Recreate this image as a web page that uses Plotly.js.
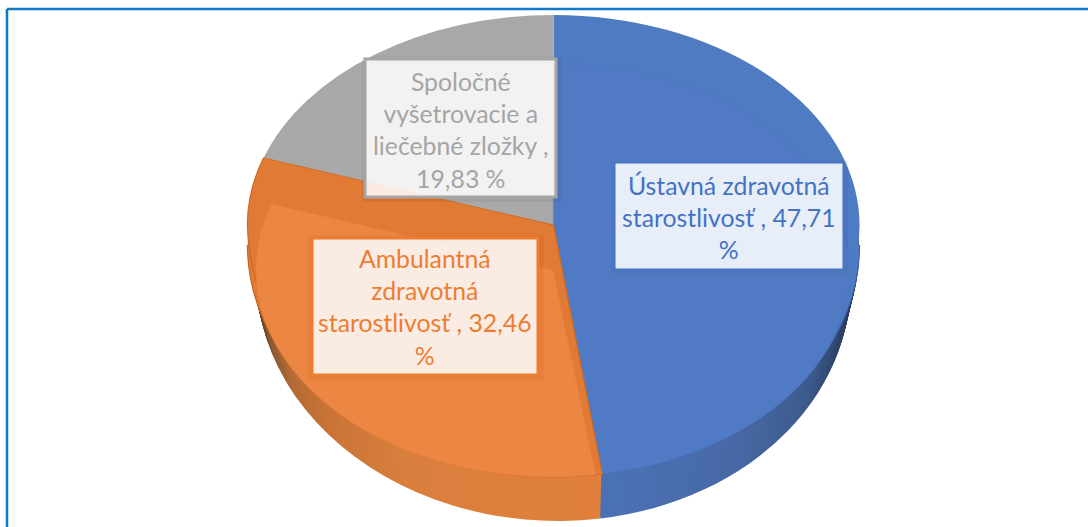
<!DOCTYPE html>
<html>
<head>
<meta charset="utf-8">
<script src="https://cdn.plot.ly/plotly-3.0.1.min.js"></script>
<style>html,body{margin:0;padding:0;background:#fff}#chart{width:1088px;height:527px}</style>
</head>
<body>
<div id="chart"></div>
<script>
var categories = ['Ústavná zdravotná starostlivosť', 'Ambulantná zdravotná starostlivosť', 'Spoločné vyšetrovacie a liečebné zložky'];
var shares = [47.71, 32.46, 19.83];
var labelTexts = [
  'Ústavná zdravotná<br>starostlivosť , 47,71<br>%',
  'Ambulantná<br>zdravotná<br>starostlivosť , 32,46<br>%',
  'Spoločné<br>vyšetrovacie a<br>liečebné zložky ,<br>19,83 %'
];
var W = 1088, H = 527, R = H / 2;

function pieTrace(colors, lineColors, lineWidth) {
  return {
    type: 'pie', labels: categories, values: shares, sort: false, direction: 'clockwise',
    rotation: 0, textinfo: 'none', hoverinfo: 'skip', showlegend: false,
    marker: {colors: colors, line: {color: lineColors || colors, width: lineWidth || 0}}
  };
}

var rimColors = ['#4f7bc3', '#e07a34', '#a8a8a8'];
var faceColors = ['#507bc4', '#ec8743', '#a9a9a9'];
var traces = [], layers = [];
function add(trace, layer) { traces.push(trace); layers.push(layer); }

var sideSteps = 22;
for (var i = sideSteps; i >= 1; i--) {
  var t = i / sideSteps;
  add(pieTrace(['#4a70b3', '#e0803c', '#8c8c8c']),
    {side: true, cx: 553.5, cy: 246 + 34 * t, rx: 306 - 9 * t, ry: 231 + 10 * t, y0: 240, y1: 527, skew: 0.018});
}
// bevelled rim of the top face
add(pieTrace(rimColors), {cx: 553.5, cy: 225, rx: 306, ry: 210, y0: 0, y1: 226});
add(pieTrace(rimColors, ['#3c62a6', '#c9661f', '#a8a8a8'], 1), {cx: 553.5, cy: 246, rx: 306, ry: 231, y0: 245, y1: 527});
add(pieTrace(rimColors), {cx: 553.5, cy: 225, rx: 306, ry: 252, y0: 225, y1: 470});
// flat inner face: blue and grey first
add(pieTrace(faceColors, ['#4a76bf', '#ec8743', '#a3a3a3'], 0.8), {cx: 553, cy: 270, rx: 297, ry: 207, y0: 0, y1: 527, hide: [1]});
// orange rim wedge overlaps them
add(pieTrace(rimColors, ['#4f7bc3', '#cf6a22', '#a8a8a8'], 1), {cx: 553.5, cy: 225, rx: 306, ry: 210, y0: 100, y1: 226, hide: [0, 2]});
add(pieTrace(rimColors, ['#4f7bc3', '#cf6a22', '#a8a8a8'], 1), {cx: 553.5, cy: 225, rx: 306, ry: 252, y0: 225, y1: 527, hide: [0, 2], skew: 0.02});
// flat inner face: orange last
add(pieTrace(faceColors, ['#4a76bf', '#e67f3c', '#a3a3a3'], 0.8), {cx: 553, cy: 270, rx: 297, ry: 207, y0: 0, y1: 527, hide: [0, 2]});

function px(x) { return x / W; }
function py(y) { return 1 - y / H; }
function box(x0, y0, x1, y1, fill, line, width) {
  return {type: 'rect', layer: 'above', xref: 'paper', yref: 'paper',
    x0: px(x0), x1: px(x1), y0: py(y1), y1: py(y0),
    fillcolor: fill, line: {color: line, width: width}};
}
function frameLine(x0, y0, x1, y1) {
  return {type: 'line', layer: 'above', xref: 'paper', yref: 'paper',
    x0: px(x0), x1: px(x1), y0: py(y0), y1: py(y1), line: {color: '#1179c6', width: 2.5}};
}
function note(text, x, y, color) {
  return {text: text, xref: 'paper', yref: 'paper', x: px(x), y: py(y), xanchor: 'center', yanchor: 'middle',
    showarrow: false, align: 'center', font: {family: 'Lato, Carlito, sans-serif', size: 24.8, color: color}};
}

var layout = {
  width: W, height: H, margin: {l: 0, r: 0, t: 0, b: 0}, paper_bgcolor: '#fff', showlegend: false,
  shapes: [
    frameLine(7, 9, 1088, 9), frameLine(7, 9, 7, 527),
    box(365, 60, 558, 199, 'rgba(0,0,0,0)', 'rgba(0,0,0,0.05)', 6),
    box(312, 239, 540, 377, 'rgba(0,0,0,0)', 'rgba(190,80,10,0.14)', 7),
    box(615, 164, 845, 271, 'rgba(0,0,0,0)', 'rgba(30,60,120,0.07)', 6),
    box(365, 59, 556, 197, 'rgba(255,255,255,0.85)', '#a5a5a5', 3),
    box(312, 238, 538, 375, 'rgba(252,250,249,0.88)', '#ed7d31', 3),
    box(615, 163, 843, 269, 'rgba(255,255,255,0.87)', '#4472c4', 1)
  ],
  annotations: [
    note(labelTexts[0], 729, 218, '#4472c4'),
    note(labelTexts[1], 425, 307, '#ed7d31'),
    note(labelTexts[2], 461, 130, '#a5a5a5')
  ]
};

function addGradient(defs, id, stops) {
  var NS = 'http://www.w3.org/2000/svg';
  var g = document.createElementNS(NS, 'linearGradient');
  g.setAttribute('id', id);
  g.setAttribute('gradientUnits', 'userSpaceOnUse');
  g.setAttribute('x1', W / 2 - R); g.setAttribute('x2', W / 2 + R);
  g.setAttribute('y1', 0); g.setAttribute('y2', 0);
  stops.forEach(function (s) {
    var e = document.createElementNS(NS, 'stop');
    e.setAttribute('offset', s[0]); e.setAttribute('stop-color', s[1]);
    g.appendChild(e);
  });
  defs.appendChild(g);
}

Plotly.newPlot('chart', traces, layout, {displayModeBar: false, staticPlot: true}).then(function () {
  var NS = 'http://www.w3.org/2000/svg';
  var svg = document.querySelector('#chart svg.main-svg');
  var defs = document.createElementNS(NS, 'defs');
  svg.insertBefore(defs, svg.firstChild);
  addGradient(defs, 'sideBlue', [[0, '#4b71b5'], [0.6, '#4b71b5'], [0.8, '#4768a5'], [0.92, '#3c5a8c'], [0.985, '#2a3c60'], [1, '#1c2840']]);
  addGradient(defs, 'sideOrange', [[0, '#35261a'], [0.025, '#8a5730'], [0.06, '#b36a35'], [0.12, '#c97436'], [0.25, '#d97f3e'], [0.6, '#e2803c'], [1, '#e2803c']]);
  var groups = document.querySelectorAll('#chart .pielayer .trace');
  groups.forEach(function (g, i) {
    var L = layers[i];
    var sx = L.rx / R, sy = L.ry / R;
    g.setAttribute('transform', 'translate(' + L.cx + ',' + L.cy + ') matrix(1,0,' + (L.skew || 0) + ',1,0,0) scale(' + sx + ',' + sy + ') translate(' + (-W / 2) + ',' + (-R) + ')');
    var c = document.createElementNS(NS, 'clipPath');
    c.setAttribute('id', 'clip' + i);
    var r = document.createElementNS(NS, 'rect');
    r.setAttribute('x', 0); r.setAttribute('width', W);
    r.setAttribute('y', R + (L.y0 - L.cy) / sy);
    r.setAttribute('height', (L.y1 - L.y0) / sy);
    c.appendChild(r); defs.appendChild(c);
    g.setAttribute('clip-path', 'url(#clip' + i + ')');
    var slices = g.querySelectorAll('.slice path.surface');
    if (L.side) {
      slices[0].style.fill = 'url(#sideBlue)';
      slices[1].style.fill = 'url(#sideOrange)';
    }
    if (L.hide) L.hide.forEach(function (k) { slices[k].style.display = 'none'; });
  });
});
</script>
</body>
</html>
